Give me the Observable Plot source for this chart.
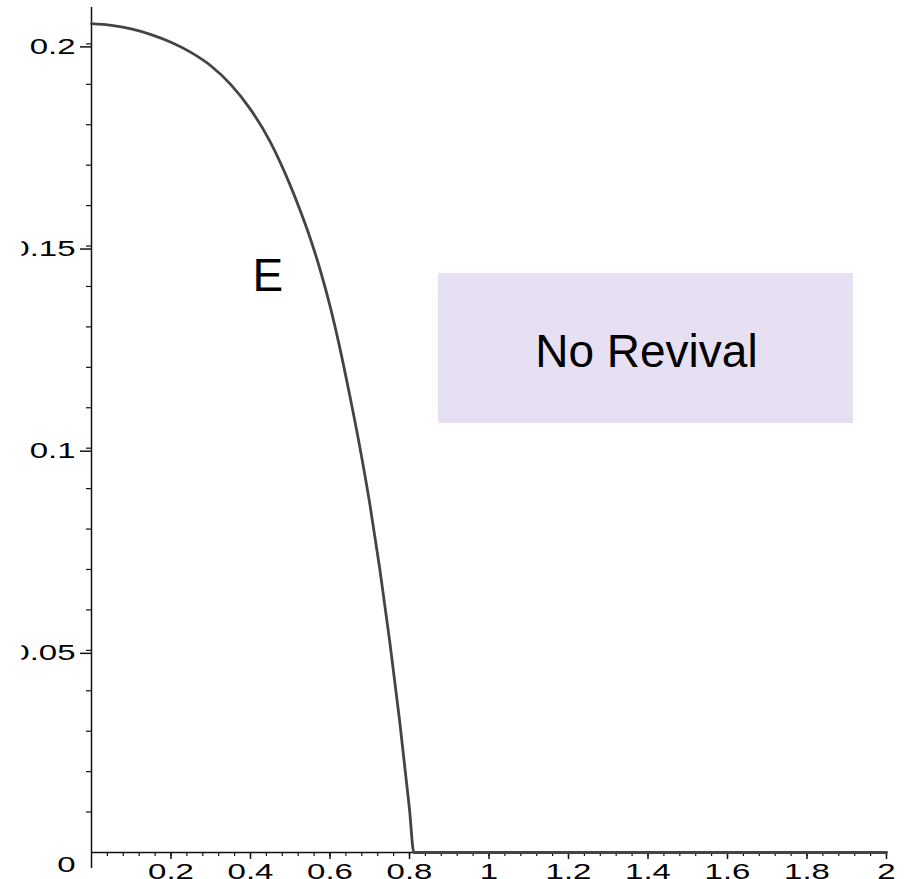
<!DOCTYPE html>
<html>
<head>
<meta charset="utf-8">
<script src="https://cdn.jsdelivr.net/npm/d3@7"></script>
<script src="https://cdn.jsdelivr.net/npm/@observablehq/plot@0.6"></script>
<style>
  html, body { margin: 0; padding: 0; background: #fff; }
</style>
</head>
<body>
<div id="chart"></div>
<script>
// Boundary curve E: height as a function of x; it reaches zero near x = 0.81
const curveX = [0, 0.05, 0.1, 0.15, 0.2, 0.25, 0.3, 0.35, 0.4, 0.45, 0.5, 0.525, 0.55, 0.575,
                0.6, 0.625, 0.65, 0.675, 0.7, 0.725, 0.75, 0.775, 0.8, 0.811, 2];
const curveY = [0.2050, 0.2046, 0.2037, 0.2023, 0.2004, 0.1979, 0.1946, 0.1900, 0.1838, 0.1757, 0.1650, 0.1588,
                0.1520, 0.1442, 0.1352, 0.1247, 0.1129, 0.1003, 0.0863, 0.0703, 0.0524, 0.0327, 0.0107, 0, 0];

// Axis ticks and their labels
const xTicks = [0.2, 0.4, 0.6, 0.8, 1, 1.2, 1.4, 1.6, 1.8, 2];
const xTickLabels = ["0.2", "0.4", "0.6", "0.8", "1", "1.2", "1.4", "1.6", "1.8", "2"];
const yTicks = [0.05, 0.1, 0.15, 0.2];
const yTickLabels = ["0.05", "0.1", "0.15", "0.2"];
const yZeroLabel = "0";

// Region annotations
const regionLabel = "No Revival";
const curveLabel = "E";
const regionBox = {x1: 0.873, x2: 1.917, y1: 0.1061, y2: 0.1432};
const regionText = {x: 1.396, y: 0.120};
const curveText = {x: 0.405, y: 0.1388};

const curve = curveX.map((x, i) => ({x, y: curveY[i]}));
const xMinor = d3.range(1, 51).map(i => +(i * 0.04).toFixed(2));
const yMinor = d3.range(1, 21).map(i => +(i * 0.01).toFixed(2));
const xLabelOf = new Map(xTicks.map((v, i) => [v, xTickLabels[i]]));
const yLabelOf = new Map(yTicks.map((v, i) => [v, yTickLabels[i]]));

const font = "'Liberation Sans', Arial, Helvetica, sans-serif";

const chart = Plot.plot({
  width: 906,
  height: 879,
  marginLeft: 91,
  marginRight: 20,
  marginTop: 7,
  marginBottom: 27,
  x: {domain: [0, 2], axis: null},
  y: {domain: [0, 0.209], axis: null},
  style: {fontFamily: font, fontSize: "22px", color: "#000", background: "#fff", overflow: "visible"},
  marks: [
    Plot.rect([regionBox], {x1: "x1", x2: "x2", y1: "y1", y2: "y2", fill: "#e7dff2"}),
    // axis lines
    Plot.ruleX([0], {stroke: "#111", strokeWidth: 1.5}),
    Plot.ruleY([0], {stroke: "#111", strokeWidth: 1.5}),
    // minor ticks
    Plot.axisX({ticks: xMinor, tickSize: 4, tickFormat: () => "", stroke: "#111", strokeWidth: 1.2, label: null}),
    Plot.axisY({ticks: yMinor, tickSize: 5, tickFormat: () => "", stroke: "#111", strokeWidth: 1.2, label: null}),
    // y axis stub below the origin
    Plot.axisX({ticks: [0], tickSize: 16, tickFormat: () => "", stroke: "#111", strokeWidth: 1.5, label: null}),
    // major ticks with labels
    Plot.axisX({ticks: xTicks, tickSize: 7, tickPadding: 4, tickFormat: d => xLabelOf.get(d),
                fontSize: 22, stroke: "#111", strokeWidth: 1.5, fill: "#000", label: null}),
    Plot.axisY({ticks: yTicks, tickSize: 11, tickPadding: 5, tickFormat: d => yLabelOf.get(d),
                fontSize: 22, dy: 3, stroke: "#111", strokeWidth: 1.5, fill: "#000", label: null}),
    Plot.axisY({ticks: [0], tickSize: 0, tickPadding: 16, tickFormat: () => yZeroLabel,
                fontSize: 22, dy: 12, fill: "#000", label: null}),
    // the curve
    Plot.line(curve, {x: "x", y: "y", stroke: "#444", strokeWidth: 2.8, curve: "monotone-x"}),
    // annotations
    Plot.text([curveText], {x: "x", y: "y", text: () => curveLabel, textAnchor: "start",
                            lineAnchor: "bottom", fontSize: 46, fill: "#000"}),
    Plot.text([regionText], {x: "x", y: "y", text: () => regionLabel, textAnchor: "middle",
                             lineAnchor: "bottom", fontSize: 46, fill: "#000"})
  ]
});

// Tick labels use a wide, stretched face
chart.querySelectorAll('g[aria-label$="tick label"] text').forEach(t => {
  const tr = t.getAttribute("transform") || "";
  t.setAttribute("transform", tr + " scale(1.5,1)");
});

// Left edge of the y tick labels is trimmed
const ns = "http://www.w3.org/2000/svg";
const defs = document.createElementNS(ns, "defs");
const cp = document.createElementNS(ns, "clipPath");
cp.setAttribute("id", "ylabel-clip");
cp.setAttribute("clipPathUnits", "userSpaceOnUse");
const cr = document.createElementNS(ns, "rect");
cr.setAttribute("x", 21.5); cr.setAttribute("y", 0);
cr.setAttribute("width", 906); cr.setAttribute("height", 879);
cp.appendChild(cr); defs.appendChild(cp);
chart.insertBefore(defs, chart.firstChild);
chart.querySelectorAll('g[aria-label^="y-axis"][aria-label$="tick label"]').forEach(g => {
  const wrap = document.createElementNS(ns, "g");
  wrap.setAttribute("clip-path", "url(#ylabel-clip)");
  g.parentNode.insertBefore(wrap, g);
  wrap.appendChild(g);
});

document.getElementById("chart").appendChild(chart);
</script>
</body>
</html>
